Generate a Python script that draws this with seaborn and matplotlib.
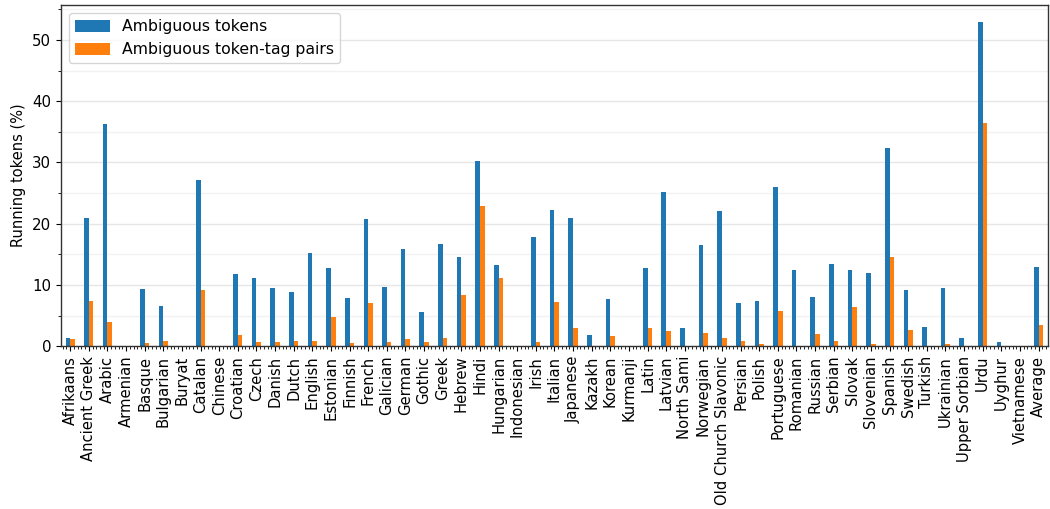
import matplotlib
matplotlib.use("Agg")
import matplotlib.pyplot as plt
import seaborn as sns
import pandas as pd
from matplotlib.ticker import MultipleLocator, AutoMinorLocator

languages = [
    "Afrikaans", "Ancient Greek", "Arabic", "Armenian", "Basque", "Bulgarian",
    "Buryat", "Catalan", "Chinese", "Croatian", "Czech", "Danish", "Dutch",
    "English", "Estonian", "Finnish", "French", "Galician", "German", "Gothic",
    "Greek", "Hebrew", "Hindi", "Hungarian", "Indonesian", "Irish", "Italian",
    "Japanese", "Kazakh", "Korean", "Kurmanji", "Latin", "Latvian", "North Sami",
    "Norwegian", "Old Church Slavonic", "Persian", "Polish", "Portuguese",
    "Romanian", "Russian", "Serbian", "Slovak", "Slovenian", "Spanish",
    "Swedish", "Turkish", "Ukrainian", "Upper Sorbian", "Urdu", "Uyghur",
    "Vietnamese", "Average",
]

ambiguous_tokens = [
    1.4, 20.9, 36.2, 0.0, 9.3, 6.6,
    0.0, 27.2, 0.0, 11.8, 11.1, 9.5, 8.9,
    15.25, 12.7, 7.9, 20.7, 9.7, 15.85, 5.65,
    16.7, 14.6, 30.2, 13.2, 0.0, 17.8, 22.3,
    20.9, 1.8, 7.7, 0.0, 12.7, 25.1, 2.9,
    16.55, 22.0, 7.1, 7.35, 26.0,
    12.5, 8.1, 13.4, 12.5, 11.9, 32.3,
    9.15, 3.2, 9.5, 1.25, 53.0, 0.6,
    0.0, 12.85,
]

ambiguous_pairs = [
    1.2, 7.35, 3.9, 0.0, 0.55, 0.9,
    0.0, 9.15, 0.0, 1.8, 0.7, 0.7, 0.9,
    0.9, 4.8, 0.55, 7.1, 0.7, 1.1, 0.6,
    1.25, 8.3, 22.9, 11.1, 0.0, 0.7, 7.2,
    2.9, 0.0, 1.6, 0.0, 2.9, 2.5, 0.0,
    2.2, 1.25, 0.9, 0.4, 5.8,
    0.0, 1.9, 0.9, 6.4, 0.3, 14.6,
    2.6, 0.0, 0.3, 0.0, 36.4, 0.0,
    0.0, 3.5,
]

series_names = ["Ambiguous tokens", "Ambiguous token-tag pairs"]
colors = ["#1f77b4", "#ff7f0e"]

df = pd.DataFrame({
    "Language": languages * 2,
    "Value": ambiguous_tokens + ambiguous_pairs,
    "Series": [series_names[0]] * len(languages) + [series_names[1]] * len(languages),
})

plt.rcParams.update({
    "font.family": "DejaVu Sans",
    "font.size": 10.5,
    "axes.edgecolor": "#333333",
    "axes.linewidth": 1.0,
})

fig, ax = plt.subplots(figsize=(10.5, 5.09), dpi=100)
fig.subplots_adjust(left=0.058, right=0.998, top=0.99, bottom=0.32)

sns.barplot(
    data=df, x="Language", y="Value", hue="Series",
    hue_order=series_names, order=languages,
    palette=colors, width=0.5, errorbar=None, saturation=1,
    ax=ax,
)

ax.set_xlim(-0.5, len(languages) - 0.5)
ax.set_ylim(0, 55.7)
ax.set_xlabel("")
ax.set_ylabel("Running tokens (%)", fontsize=10.5)
ax.yaxis.set_major_locator(MultipleLocator(10))
ax.yaxis.set_minor_locator(MultipleLocator(5))
ax.xaxis.set_minor_locator(AutoMinorLocator(5))
ax.tick_params(axis="x", labelrotation=90, labelsize=10.6)
ax.tick_params(axis="y", labelsize=10.8)
ax.tick_params(which="minor", length=2)
ax.set_axisbelow(True)
ax.yaxis.grid(True, which="major", color="#e6e6e6", linewidth=1.0)
ax.yaxis.grid(True, which="minor", color="#f2f2f2", linewidth=1.0)
ax.xaxis.grid(False)

ax.legend(loc="upper left", fontsize=11.3, title=None, framealpha=0.8,
          handlelength=2.2, handleheight=0.8)

fig.savefig("out.png", dpi=100)
